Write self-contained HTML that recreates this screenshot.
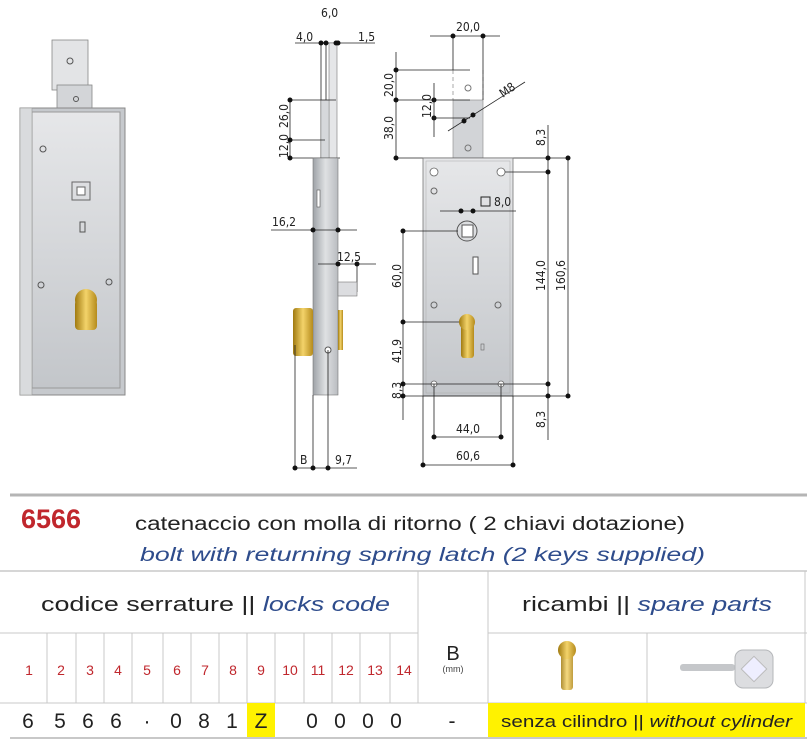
<!DOCTYPE html>
<html><head><meta charset="utf-8"><style>
html,body{margin:0;padding:0;background:#fff;}
svg{display:block;font-family:"Liberation Sans",sans-serif;}
.d{font-family:"DejaVu Sans Condensed","Liberation Sans Narrow","Liberation Sans",sans-serif;font-size:12px;fill:#222;}
.l{stroke:#222;stroke-width:0.8;fill:none;}
</style></head><body>
<svg width="807" height="742" viewBox="0 0 807 742" xmlns="http://www.w3.org/2000/svg">
<defs>
<linearGradient id="g1" x1="0" x2="1"><stop offset="0" stop-color="#9ea2a7"/><stop offset="0.5" stop-color="#dfe1e3"/><stop offset="1" stop-color="#b9bcc0"/></linearGradient>
<linearGradient id="g2" x1="0" y1="0" x2="0" y2="1"><stop offset="0" stop-color="#e6e7e9"/><stop offset="1" stop-color="#c3c6ca"/></linearGradient>
<linearGradient id="br" x1="0" x2="1"><stop offset="0" stop-color="#a07a10"/><stop offset="0.5" stop-color="#f3d36a"/><stop offset="1" stop-color="#b58b1c"/></linearGradient>
</defs>
<rect width="807" height="742" fill="#fff"/>

<!-- Left 3D lock -->
<rect x="52" y="40" width="36" height="50" fill="#e3e4e6" stroke="#888" stroke-width="0.8"/>
<circle cx="70" cy="61" r="3" fill="none" stroke="#555"/>
<rect x="57" y="85" width="35" height="24" fill="#d3d5d8" stroke="#888" stroke-width="0.8"/>
<circle cx="76" cy="99" r="2.5" fill="none" stroke="#555"/>
<polygon points="20,108 125,108 125,395 20,395" fill="#c6c9cd" stroke="#888"/>
<polygon points="32,112 120,112 120,388 32,388" fill="url(#g2)" stroke="#999"/>
<rect x="20" y="108" width="12" height="287" fill="#d9dbdd" stroke="#999" stroke-width="0.6"/>
<circle cx="43" cy="149" r="3" fill="none" stroke="#555"/>
<rect x="72" y="182" width="18" height="18" fill="none" stroke="#666"/>
<rect x="77" y="187" width="8" height="8" fill="#fff" stroke="#666"/>
<rect x="80" y="222" width="5" height="10" fill="none" stroke="#555"/>
<circle cx="41" cy="285" r="3" fill="none" stroke="#555"/>
<circle cx="109" cy="282" r="3" fill="none" stroke="#555"/>
<rect x="75" y="300" width="22" height="30" rx="4" fill="url(#br)"/>
<circle cx="86" cy="300" r="11" fill="url(#br)"/>

<!-- Side view -->
<text class="d" x="321" y="17">6,0</text>
<text class="d" x="296" y="41">4,0</text>
<text class="d" x="358" y="41">1,5</text>
<line class="l" x1="295" y1="43" x2="375" y2="43"/>
<line class="l" x1="321" y1="43" x2="321" y2="158"/>
<line class="l" x1="326" y1="43" x2="326" y2="158"/>
<rect x="329" y="43" width="8" height="115" fill="#e5e6e8" stroke="#777" stroke-width="0.6"/>
<rect x="321" y="100" width="8" height="58" fill="#d6d8db" stroke="#888" stroke-width="0.5"/>
<g fill="#111"><circle cx="321" cy="43" r="2.5"/><circle cx="326" cy="43" r="2.5"/><circle cx="336" cy="43" r="2.5"/><circle cx="338" cy="43" r="2.5"/></g>
<line class="l" x1="290" y1="100" x2="336" y2="100"/>
<line class="l" x1="290" y1="140" x2="325" y2="140"/>
<line class="l" x1="290" y1="158" x2="340" y2="158"/>
<line class="l" x1="290" y1="100" x2="290" y2="158"/>
<g fill="#111"><circle cx="290" cy="100" r="2.5"/><circle cx="290" cy="140" r="2.5"/><circle cx="290" cy="158" r="2.5"/></g>
<text class="d" transform="translate(288,128) rotate(-90)">26,0</text>
<text class="d" transform="translate(288,158) rotate(-90)">12,0</text>
<rect x="313" y="158" width="25" height="237" fill="url(#g1)" stroke="#777" stroke-width="0.6"/>
<rect x="317" y="190" width="3" height="17" fill="#fff" stroke="#555" stroke-width="0.6"/>
<text class="d" x="272" y="226">16,2</text>
<line class="l" x1="271" y1="230" x2="357" y2="230"/>
<circle cx="313" cy="230" r="2.5" fill="#111"/><circle cx="338" cy="230" r="2.5" fill="#111"/>
<text class="d" x="337" y="261">12,5</text>
<line class="l" x1="318" y1="264" x2="376" y2="264"/>
<line class="l" x1="357" y1="264" x2="357" y2="292"/>
<circle cx="338" cy="264" r="2.5" fill="#111"/><circle cx="357" cy="264" r="2.5" fill="#111"/>
<rect x="338" y="282" width="19" height="14" fill="#dcdde0" stroke="#777" stroke-width="0.6"/>
<rect x="293" y="308" width="20" height="48" rx="3" fill="url(#br)"/>
<rect x="338" y="310" width="5" height="40" fill="url(#br)"/>
<circle cx="328" cy="350" r="3" fill="#fff" stroke="#555"/>
<line class="l" x1="295" y1="345" x2="295" y2="468"/>
<line class="l" x1="313" y1="395" x2="313" y2="468"/>
<line class="l" x1="328" y1="350" x2="328" y2="468"/>
<line class="l" x1="295" y1="468" x2="357" y2="468"/>
<g fill="#111"><circle cx="295" cy="468" r="2.5"/><circle cx="313" cy="468" r="2.5"/><circle cx="328" cy="468" r="2.5"/></g>
<text class="d" x="300" y="464">B</text>
<text class="d" x="335" y="464">9,7</text>

<!-- Front view -->
<rect x="453" y="100" width="30" height="58" fill="#d2d4d7" stroke="#888" stroke-width="0.6"/>
<line x1="453" y1="70" x2="453" y2="100" stroke="#aaa" stroke-dasharray="4,3"/>
<line x1="483" y1="70" x2="483" y2="100" stroke="#aaa" stroke-dasharray="4,3"/>
<circle cx="468" cy="88" r="3" fill="none" stroke="#777"/>
<circle cx="468" cy="148" r="3" fill="none" stroke="#777"/>
<text class="d" x="456" y="31">20,0</text>
<line class="l" x1="430" y1="36" x2="500" y2="36"/>
<line class="l" x1="453" y1="36" x2="453" y2="70"/>
<line class="l" x1="483" y1="36" x2="483" y2="100"/>
<circle cx="453" cy="36" r="2.5" fill="#111"/><circle cx="483" cy="36" r="2.5" fill="#111"/>
<line class="l" x1="396" y1="70" x2="470" y2="70"/>
<line class="l" x1="396" y1="100" x2="470" y2="100"/>
<line class="l" x1="396" y1="158" x2="570" y2="158"/>
<line class="l" x1="396" y1="52" x2="396" y2="158"/>
<g fill="#111"><circle cx="396" cy="70" r="2.5"/><circle cx="396" cy="100" r="2.5"/><circle cx="396" cy="158" r="2.5"/><circle cx="434" cy="100" r="2.5"/><circle cx="434" cy="118" r="2.5"/></g>
<text class="d" transform="translate(393,97) rotate(-90)">20,0</text>
<text class="d" transform="translate(393,140) rotate(-90)">38,0</text>
<line class="l" x1="434" y1="83" x2="434" y2="137"/>
<line class="l" x1="434" y1="118" x2="470" y2="118"/>
<text class="d" transform="translate(431,118) rotate(-90)">12,0</text>
<line class="l" x1="448" y1="131" x2="525" y2="82"/>
<circle cx="464" cy="121" r="2.5" fill="#111"/><circle cx="473" cy="115" r="2.5" fill="#111"/>
<text class="d" transform="translate(503,98) rotate(-35)">M8</text>

<rect x="423" y="158" width="90" height="238" fill="url(#g2)" stroke="#777" stroke-width="0.8"/>
<rect x="426" y="161" width="84" height="232" fill="none" stroke="#aaa" stroke-width="0.5"/>
<g fill="#fff" stroke="#666" stroke-width="0.8"><circle cx="434" cy="172" r="4"/><circle cx="501" cy="172" r="4"/><circle cx="434" cy="384" r="3"/><circle cx="501" cy="384" r="3"/></g>
<g fill="none" stroke="#666"><circle cx="434" cy="191" r="3"/><circle cx="434" cy="305" r="3"/><circle cx="498" cy="305" r="3"/></g>
<rect x="481" y="197" width="9" height="9" fill="none" stroke="#222"/>
<text class="d" x="494" y="206">8,0</text>
<line class="l" x1="440" y1="211" x2="516" y2="211"/>
<circle cx="461" cy="211" r="2.5" fill="#111"/><circle cx="473" cy="211" r="2.5" fill="#111"/>
<circle cx="467" cy="231" r="10" fill="none" stroke="#555"/>
<rect x="462" y="225" width="11" height="12" fill="#fff" stroke="#555"/>
<rect x="473" y="257" width="5" height="17" fill="#fff" stroke="#555"/>
<line class="l" x1="403" y1="231" x2="458" y2="231"/>
<line class="l" x1="403" y1="231" x2="403" y2="420"/>
<line class="l" x1="403" y1="322" x2="460" y2="322"/>
<g fill="#111"><circle cx="403" cy="231" r="2.5"/><circle cx="403" cy="322" r="2.5"/><circle cx="403" cy="384" r="2.5"/><circle cx="403" cy="396" r="2.5"/></g>
<text class="d" transform="translate(401,288) rotate(-90)">60,0</text>
<text class="d" transform="translate(401,363) rotate(-90)">41,9</text>
<text class="d" transform="translate(401,399) rotate(-90)">8,3</text>
<rect x="461" y="322" width="13" height="36" rx="3" fill="url(#br)"/>
<circle cx="467" cy="322" r="8" fill="url(#br)"/>
<rect x="481" y="344" width="3" height="6" fill="none" stroke="#666" stroke-width="0.6"/>
<line class="l" x1="403" y1="384" x2="550" y2="384"/>
<line class="l" x1="403" y1="396" x2="570" y2="396"/>
<line class="l" x1="505" y1="172" x2="550" y2="172"/>
<line class="l" x1="548" y1="125" x2="548" y2="440"/>
<line class="l" x1="568" y1="158" x2="568" y2="396"/>
<g fill="#111"><circle cx="548" cy="158" r="2.5"/><circle cx="568" cy="158" r="2.5"/><circle cx="548" cy="172" r="2.5"/><circle cx="548" cy="384" r="2.5"/><circle cx="548" cy="396" r="2.5"/><circle cx="568" cy="396" r="2.5"/></g>
<text class="d" transform="translate(545,146) rotate(-90)">8,3</text>
<text class="d" transform="translate(545,291) rotate(-90)">144,0</text>
<text class="d" transform="translate(565,291) rotate(-90)">160,6</text>
<text class="d" transform="translate(545,428) rotate(-90)">8,3</text>
<line class="l" x1="434" y1="384" x2="434" y2="437"/>
<line class="l" x1="501" y1="384" x2="501" y2="437"/>
<line class="l" x1="434" y1="437" x2="501" y2="437"/>
<line class="l" x1="423" y1="396" x2="423" y2="465"/>
<line class="l" x1="513" y1="396" x2="513" y2="465"/>
<line class="l" x1="423" y1="465" x2="513" y2="465"/>
<g fill="#111"><circle cx="434" cy="437" r="2.5"/><circle cx="501" cy="437" r="2.5"/><circle cx="423" cy="465" r="2.5"/><circle cx="513" cy="465" r="2.5"/></g>
<text class="d" x="456" y="433">44,0</text>
<text class="d" x="456" y="460">60,6</text>

<!-- Table -->
<line x1="10" y1="495" x2="807" y2="495" stroke="#b5b5b5" stroke-width="3"/>
<text x="21" y="528" font-size="27" font-weight="bold" fill="#c0272d">6566</text>
<text x="135" y="530" font-size="19" fill="#222" textLength="550" lengthAdjust="spacingAndGlyphs">catenaccio con molla di ritorno ( 2 chiavi dotazione)</text>
<text x="140" y="561" font-size="19" font-style="italic" fill="#2e4c8c" textLength="565" lengthAdjust="spacingAndGlyphs">bolt with returning spring latch (2 keys supplied)</text>
<line x1="0" y1="571" x2="807" y2="571" stroke="#c8c8c8" stroke-width="1.5"/>
<text x="41" y="611" font-size="20" fill="#222" textLength="349" lengthAdjust="spacingAndGlyphs">codice serrature || <tspan font-style="italic" fill="#2e4c8c">locks code</tspan></text>
<text x="522" y="611" font-size="20" fill="#222" textLength="250" lengthAdjust="spacingAndGlyphs">ricambi || <tspan font-style="italic" fill="#2e4c8c">spare parts</tspan></text>
<g stroke="#c8c8c8" stroke-width="1">
<line x1="0" y1="633" x2="418" y2="633"/><line x1="488" y1="633" x2="807" y2="633"/>
<line x1="0" y1="703" x2="807" y2="703"/>
<line x1="418" y1="571" x2="418" y2="703"/><line x1="488" y1="571" x2="488" y2="703"/>
<line x1="647" y1="633" x2="647" y2="703"/><line x1="805" y1="571" x2="805" y2="703"/>
<line x1="47" y1="633" x2="47" y2="703"/><line x1="76" y1="633" x2="76" y2="703"/><line x1="104" y1="633" x2="104" y2="703"/><line x1="132" y1="633" x2="132" y2="703"/><line x1="163" y1="633" x2="163" y2="703"/><line x1="191" y1="633" x2="191" y2="703"/><line x1="219" y1="633" x2="219" y2="703"/><line x1="247" y1="633" x2="247" y2="703"/><line x1="275" y1="633" x2="275" y2="703"/><line x1="304" y1="633" x2="304" y2="703"/><line x1="332" y1="633" x2="332" y2="703"/><line x1="360" y1="633" x2="360" y2="703"/><line x1="390" y1="633" x2="390" y2="703"/>
</g>
<g font-size="14" fill="#c0272d" text-anchor="middle">
<text x="29" y="675">1</text><text x="61" y="675">2</text><text x="90" y="675">3</text><text x="118" y="675">4</text><text x="147" y="675">5</text><text x="177" y="675">6</text><text x="205" y="675">7</text><text x="233" y="675">8</text><text x="261" y="675">9</text><text x="290" y="675">10</text><text x="318" y="675">11</text><text x="346" y="675">12</text><text x="375" y="675">13</text><text x="404" y="675">14</text>
</g>
<text x="453" y="660" font-size="20" text-anchor="middle" fill="#222">B</text>
<text x="453" y="672" font-size="9" text-anchor="middle" fill="#444">(mm)</text>
<!-- spare icons -->
<rect x="561" y="650" width="12" height="40" rx="3" fill="url(#br)" opacity="0.85"/>
<circle cx="567" cy="650" r="9" fill="url(#br)"/>
<rect x="680" y="664" width="55" height="7" rx="3" fill="#c5c7ca"/>
<rect x="735" y="650" width="38" height="38" rx="8" fill="#dcdde0" stroke="#b5b7ba"/>
<rect x="745" y="660" width="18" height="18" fill="#eef" stroke="#bbb" transform="rotate(45 754 669)"/>
<!-- values row -->
<rect x="247" y="703" width="28" height="34" fill="#fff200"/>
<rect x="488" y="703" width="317" height="34" fill="#fff200"/>
<g font-size="21" fill="#222" text-anchor="middle">
<text x="28" y="728">6</text><text x="60" y="728">5</text><text x="88" y="728">6</text><text x="116" y="728">6</text><text x="147" y="728">·</text><text x="176" y="728">0</text><text x="204" y="728">8</text><text x="232" y="728">1</text><text x="261" y="728">Z</text><text x="312" y="728">0</text><text x="340" y="728">0</text><text x="368" y="728">0</text><text x="396" y="728">0</text><text x="452" y="728">-</text>
</g>
<text x="501" y="727" font-size="17" fill="#222" textLength="291" lengthAdjust="spacingAndGlyphs">senza cilindro || <tspan font-style="italic">without cylinder</tspan></text>
<line x1="10" y1="738" x2="807" y2="738" stroke="#c8c8c8" stroke-width="2"/>
</svg>
</body></html>
